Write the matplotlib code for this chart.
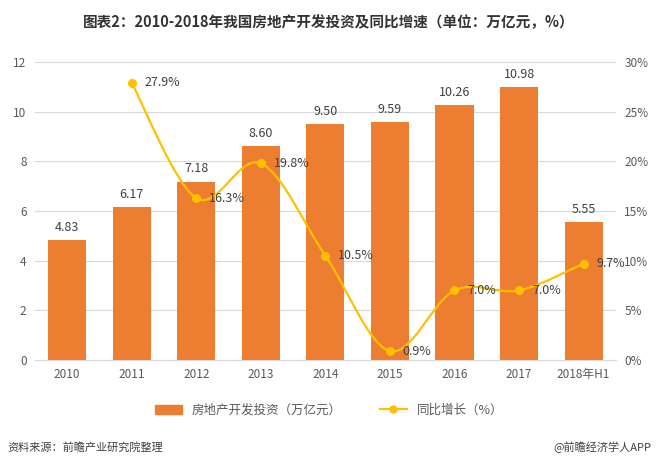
import matplotlib
matplotlib.use('Agg')
import matplotlib.pyplot as plt
from matplotlib.path import Path
from matplotlib.patches import PathPatch
from matplotlib.ticker import FuncFormatter
import numpy as np

plt.rcParams['font.family'] = ['Noto Sans CJK SC', 'DejaVu Sans']

# 数据
years = ['2010', '2011', '2012', '2013', '2014', '2015', '2016', '2017', '2018年H1']
invest = [4.83, 6.17, 7.18, 8.60, 9.50, 9.59, 10.26, 10.98, 5.55]
growth_years = ['2011', '2012', '2013', '2014', '2015', '2016', '2017', '2018年H1']
growth = [27.9, 16.3, 19.8, 10.5, 0.9, 7.0, 7.0, 9.7]

bar_c = '#ED7D31'
line_c = '#FFC000'
txt_c = '#595959'
lab_c = '#404040'

fig = plt.figure(figsize=(6.58, 4.66), dpi=100)
ax = fig.add_axes([0.053, 0.2275, 0.883, 0.6395])
x = np.arange(len(years))
ax.bar(x, invest, width=0.59, color=bar_c, zorder=2)
for xi, v in zip(x, invest):
    ax.text(xi, v + 0.25, '%.2f' % v, ha='center', va='bottom', fontsize=9, color=lab_c)
ax.set_ylim(0, 12)
ax.set_yticks(range(0, 13, 2))
ax.set_xlim(-0.5, len(years) - 0.5)
ax.set_xticks(x)
ax.set_xticklabels(years)
ax.grid(axis='y', color='#D9D9D9', linewidth=0.8, zorder=0)
ax.set_axisbelow(True)
for s in ['top', 'right', 'left']:
    ax.spines[s].set_visible(False)
ax.spines['bottom'].set_color('#D9D9D9')
ax.tick_params(length=0, labelsize=8.5, colors=txt_c, pad=6)

ax2 = ax.twinx()
ax2.set_ylim(0, 30)
ax2.set_yticks(range(0, 31, 5))
ax2.yaxis.set_major_formatter(FuncFormatter(lambda v, p: '%d%%' % v))
for s in ax2.spines.values():
    s.set_visible(False)
ax2.tick_params(length=0, labelsize=8.5, colors=txt_c, pad=6)

# 平滑曲线 (Catmull-Rom 转 Bezier)
gx = np.array([years.index(g) for g in growth_years], dtype=float)
gy = np.array(growth, dtype=float)
px = np.concatenate([[gx[0]], gx, [gx[-1]]])
py = np.concatenate([[gy[0]], gy, [gy[-1]]])
verts = [(gx[0], gy[0])]
codes = [Path.MOVETO]
for i in range(1, len(px) - 2):
    c1 = (px[i] + (px[i + 1] - px[i - 1]) / 6, py[i] + (py[i + 1] - py[i - 1]) / 6)
    c2 = (px[i + 1] - (px[i + 2] - px[i]) / 6, py[i + 1] - (py[i + 2] - py[i]) / 6)
    verts += [c1, c2, (px[i + 1], py[i + 1])]
    codes += [Path.CURVE4] * 3
ax2.add_patch(PathPatch(Path(verts, codes), fill=False, edgecolor=line_c, linewidth=1.6, zorder=3))
ax2.plot(gx, gy, 'o', color=line_c, markersize=5.5, zorder=4)
for xi, v in zip(gx, gy):
    ax2.text(xi + 0.2, v, '%.1f%%' % v, ha='left', va='center', fontsize=9, color=lab_c)

fig.text(0.5, 0.953, '图表2：2010-2018年我国房地产开发投资及同比增速（单位：万亿元，%）',
         ha='center', va='center', fontsize=10.5, fontweight='bold', color='#333333')

# 图例
h1 = plt.Rectangle((0, 0), 1, 1, color=bar_c)
h2, = plt.plot([], [], '-o', color=line_c, markersize=5, linewidth=1.6)
fig.legend([h1, h2], ['房地产开发投资（万亿元）', '同比增长（%）'], loc='center',
           bbox_to_anchor=(0.5, 0.12), ncol=2, frameon=False, fontsize=9,
           labelcolor=txt_c, handlelength=2.2, columnspacing=3)

fig.text(0.012, 0.04, '资料来源：前瞻产业研究院整理', ha='left', va='center',
         fontsize=8, style='italic', color='#404040')
fig.text(0.99, 0.04, '@前瞻经济学人APP', ha='right', va='center',
         fontsize=8, color='#404040')

fig.savefig('out.png', dpi=100)
